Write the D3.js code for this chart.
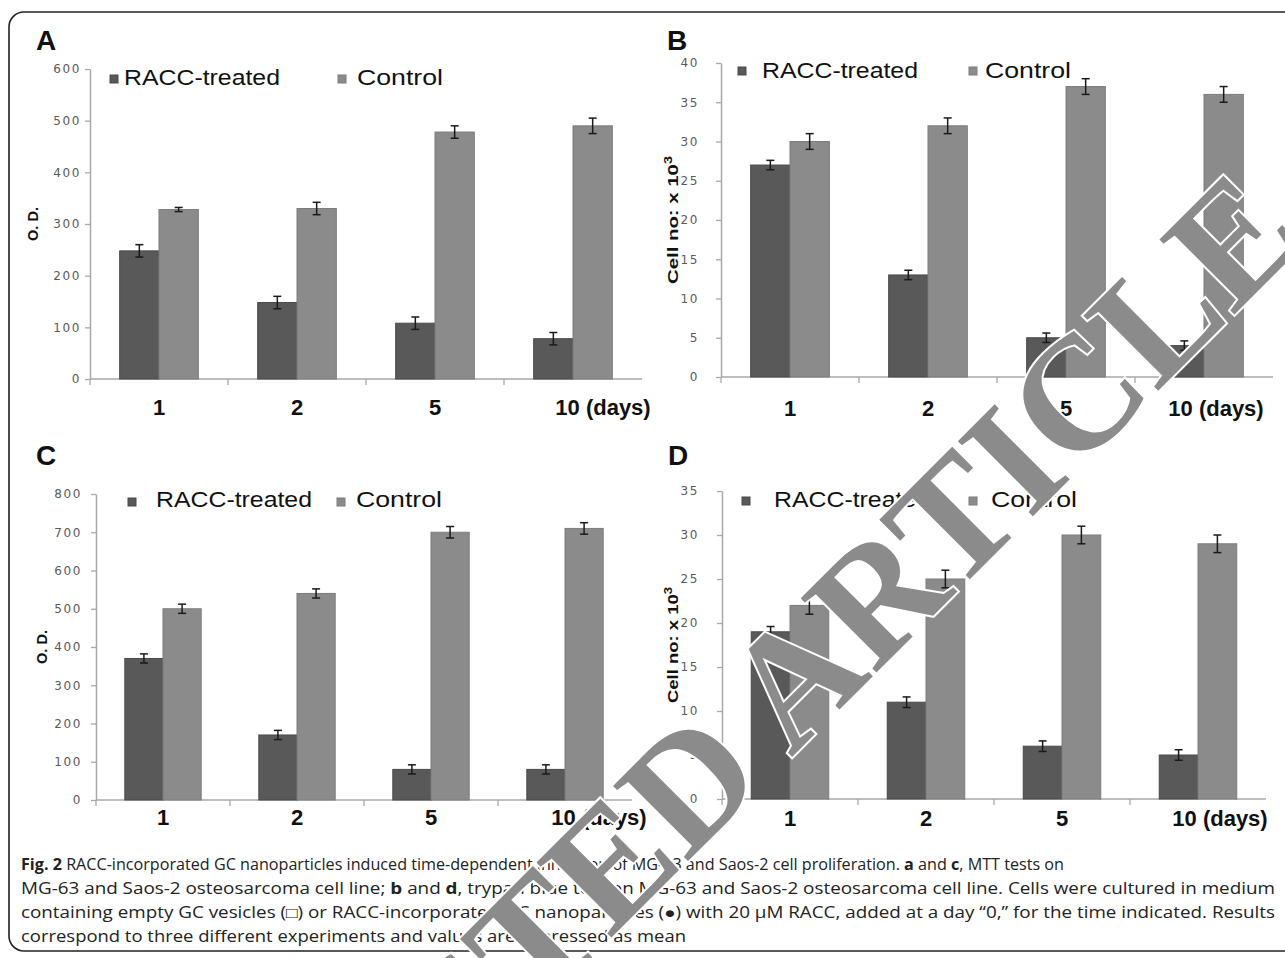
<!DOCTYPE html>
<html><head><meta charset="utf-8">
<script src="https://cdn.jsdelivr.net/npm/d3@7"></script>
<style>body{margin:0;background:#fff}</style>
</head><body>
<svg id="chart" width="1285" height="958"></svg>
<script>
// ---------- data ----------
const categories = ["1", "2", "5", "10 (days)"];
const seriesNames = ["RACC-treated", "Control"];

const aRacc = [248, 148, 108, 78];
const aRaccErr = [12, 12, 12, 12];
const aCtrl = [328, 330, 478, 490];
const aCtrlErr = [4, 12, 12, 15];

const bRacc = [27, 13, 5, 4];
const bRaccErr = [0.6, 0.6, 0.6, 0.6];
const bCtrl = [30, 32, 37, 36];
const bCtrlErr = [1, 1, 1, 1];

const cRacc = [370, 170, 80, 80];
const cRaccErr = [12, 12, 12, 12];
const cCtrl = [500, 540, 700, 710];
const cCtrlErr = [12, 12, 15, 15];

const dRacc = [19, 11, 6, 5];
const dRaccErr = [0.6, 0.6, 0.6, 0.6];
const dCtrl = [22, 25, 30, 29];
const dCtrlErr = [1, 1, 1, 1];

const aTicks = [0, 100, 200, 300, 400, 500, 600];
const bTicks = [0, 5, 10, 15, 20, 25, 30, 35, 40];
const cTicks = [0, 100, 200, 300, 400, 500, 600, 700, 800];
const dTicks = [0, 5, 10, 15, 20, 25, 30, 35];

const captionLines = [
  [["Fig. 2", true], [" RACC-incorporated GC nanoparticles induced time-dependent inhibition of MG-63 and Saos-2 cell proliferation. ", false], ["a", true], [" and ", false], ["c", true], [", MTT tests on", false]],
  [["MG-63 and Saos-2 osteosarcoma cell line; ", false], ["b", true], [" and ", false], ["d", true], [", trypan blue test on MG-63 and Saos-2 osteosarcoma cell line. Cells were cultured in medium", false]],
  [["containing empty GC vesicles (\u25A1) or RACC-incorporated GC nanoparticles (\u25CF) with 20 \u03BCM RACC, added at a day \u201C0,\u201D for the time indicated. Results", false]],
  [["correspond to three different experiments and values are expressed as mean", false]]
];
const watermarkText = "RETRACTED ARTICLE";

// ---------- layout ----------
const colors = ["#595959", "#8b8b8b"];
const strokes = ["#4a4a4a", "#7c7c7c"];

const panels = [
  {letter: "A", racc: aRacc, raccErr: aRaccErr, ctrl: aCtrl, ctrlErr: aCtrlErr, ticks: aTicks,
   ylabel: "O. D.", sup: false, lx: 36, ly: 50, x0: 90, x1: 642, yBase: 379, yTop: 69,
   tickDx: 9, ylx: 38, ylLen: 34, legY: 85, sq1: 110, tx1: 124, sq2: 338, tx2: 357, sqY: 75, catY: 415, lastDx: 30},
  {letter: "B", racc: bRacc, raccErr: bRaccErr, ctrl: bCtrl, ctrlErr: bCtrlErr, ticks: bTicks,
   ylabel: "Cell no: x 10", sup: true, lx: 667, ly: 50, x0: 721, x1: 1273, yBase: 377, yTop: 63,
   tickDx: 22, ylx: 678, ylLen: 128, legY: 78, sq1: 738, tx1: 762, sq2: 969, tx2: 985, sqY: 67, catY: 416, lastDx: 12},
  {letter: "C", racc: cRacc, raccErr: cRaccErr, ctrl: cCtrl, ctrlErr: cCtrlErr, ticks: cTicks,
   ylabel: "O. D.", sup: false, lx: 36, ly: 465, x0: 96, x1: 632, yBase: 800, yTop: 494,
   tickDx: 14, ylx: 47, ylLen: 34, legY: 507, sq1: 128, tx1: 156, sq2: 337, tx2: 356, sqY: 498, catY: 825, lastDx: 34},
  {letter: "D", racc: dRacc, raccErr: dRaccErr, ctrl: dCtrl, ctrlErr: dCtrlErr, ticks: dTicks,
   ylabel: "Cell no: x 10", sup: true, lx: 668, ly: 465, x0: 722, x1: 1266, yBase: 799, yTop: 491,
   tickDx: 23, ylx: 678, ylLen: 116, legY: 507, sq1: 742, tx1: 774, sq2: 969, tx2: 991, sqY: 497, catY: 826, lastDx: 22}
];

const svg = d3.select("#chart");

// outer frame
svg.append("rect").attr("x", 9).attr("y", 12).attr("width", 1330).attr("height", 939)
  .attr("rx", 15).attr("fill", "none").attr("stroke", "#222").attr("stroke-width", 1.6);

panels.forEach(p => {
  const g = svg.append("g");
  const x = d3.scaleBand().domain(categories).range([p.x0, p.x1]).paddingInner(0).paddingOuter(0);
  const xs = d3.scaleBand().domain(seriesNames).range([x.bandwidth() * 0.215, x.bandwidth() * 0.785]);
  const y = d3.scaleLinear().domain([0, d3.max(p.ticks)]).range([p.yBase, p.yTop]);

  g.append("text").attr("x", p.lx).attr("y", p.ly).text(p.letter)
    .attr("font-family", "Liberation Sans, Arial, sans-serif").attr("font-weight", "bold")
    .attr("font-size", 28).attr("fill", "#111");

  const ya = g.append("g").attr("transform", `translate(${p.x0},0)`)
    .call(d3.axisLeft(y).tickValues(p.ticks).tickSize(5).tickSizeOuter(0).tickPadding(p.tickDx - 5));
  ya.select(".domain").attr("stroke", "#a8a8a8").attr("stroke-width", 1.5);
  ya.selectAll(".tick line").attr("stroke", "#a8a8a8").attr("stroke-width", 1.3);
  ya.selectAll(".tick text").attr("font-family", "DejaVu Sans, Verdana, sans-serif")
    .attr("font-size", 12).attr("letter-spacing", 1.6).attr("fill", "#5a5a5a");

  g.append("line").attr("x1", p.x0).attr("x2", p.x1).attr("y1", p.yBase).attr("y2", p.yBase)
    .attr("stroke", "#a8a8a8").attr("stroke-width", 1.6);
  g.selectAll(".xt").data(categories).enter().append("line")
    .attr("x1", d => x(d)).attr("x2", d => x(d))
    .attr("y1", p.yBase).attr("y2", p.yBase + 6).attr("stroke", "#a8a8a8").attr("stroke-width", 1.3);

  g.selectAll(".cl").data(categories).enter().append("text")
    .attr("x", (d, i) => x(d) + x.bandwidth() / 2 + (i === categories.length - 1 ? p.lastDx : 0))
    .attr("y", p.catY).attr("text-anchor", "middle")
    .attr("font-family", "Liberation Sans, Arial, sans-serif").attr("font-weight", "bold")
    .attr("font-size", 22).attr("fill", "#111").text(d => d);

  const series = [
    {name: seriesNames[0], vals: p.racc, errs: p.raccErr, ci: 0},
    {name: seriesNames[1], vals: p.ctrl, errs: p.ctrlErr, ci: 1}
  ];
  series.forEach(s => {
    const data = categories.map((c, i) => ({c, v: s.vals[i], e: s.errs[i]}));
    g.selectAll(null).data(data).enter().append("rect")
      .attr("x", d => x(d.c) + xs(s.name)).attr("width", xs.bandwidth())
      .attr("y", d => y(d.v)).attr("height", d => y(0) - y(d.v))
      .attr("fill", colors[s.ci]).attr("stroke", strokes[s.ci]).attr("stroke-width", 1);
    const eg = g.selectAll(null).data(data).enter().append("g")
      .attr("stroke", "#1a1a1a").attr("stroke-width", 1.5);
    const cx = d => x(d.c) + xs(s.name) + xs.bandwidth() / 2;
    eg.append("line").attr("x1", cx).attr("x2", cx).attr("y1", d => y(d.v + d.e)).attr("y2", d => y(d.v - d.e));
    eg.append("line").attr("x1", d => cx(d) - 4).attr("x2", d => cx(d) + 4).attr("y1", d => y(d.v + d.e)).attr("y2", d => y(d.v + d.e));
    eg.append("line").attr("x1", d => cx(d) - 4).attr("x2", d => cx(d) + 4).attr("y1", d => y(d.v - d.e)).attr("y2", d => y(d.v - d.e));
  });

  const cy = (p.yBase + p.yTop) / 2;
  const yl = g.append("text").attr("transform", `translate(${p.ylx},${cy}) rotate(-90)`)
    .attr("text-anchor", "middle").attr("font-family", "Liberation Sans, Arial, sans-serif")
    .attr("font-weight", "bold").attr("font-size", 14).attr("fill", "#111")
    .attr("textLength", p.ylLen).attr("lengthAdjust", "spacingAndGlyphs");
  yl.append("tspan").text(p.ylabel);
  if (p.sup) yl.append("tspan").attr("dy", -6).attr("font-size", 10).text("3");

  [[p.sq1, p.tx1, 156], [p.sq2, p.tx2, 86]].forEach((L, i) => {
    g.append("rect").attr("x", L[0]).attr("y", p.sqY).attr("width", 8).attr("height", 8)
      .attr("fill", colors[i]).attr("stroke", strokes[i]);
    g.append("text").attr("x", L[1]).attr("y", p.legY).text(seriesNames[i])
      .attr("font-family", "Liberation Sans, Arial, sans-serif").attr("font-size", 22)
      .attr("fill", "#111").attr("textLength", L[2]).attr("lengthAdjust", "spacingAndGlyphs");
  });
});

// caption
const capW = [1043, 1254, 1254, 665];
captionLines.forEach((line, i) => {
  const t = svg.append("text").attr("x", 21).attr("y", 870 + i * 24)
    .attr("font-family", "Open Sans, Noto Sans, sans-serif").attr("font-size", 15.5).attr("fill", "#222")
    .attr("textLength", capW[i]).attr("lengthAdjust", "spacingAndGlyphs");
  line.forEach(seg => t.append("tspan").attr("font-weight", seg[1] ? "bold" : "normal").text(seg[0]));
});

// watermark
svg.append("text").attr("transform", "translate(1309,240) rotate(-45)")
  .attr("text-anchor", "end").attr("font-family", "Liberation Serif, Times New Roman, serif")
  .attr("font-weight", "bold").attr("font-size", 162).attr("fill", "#8b8b8b")
  .attr("stroke", "#fff").attr("stroke-width", 4).attr("paint-order", "stroke").text(watermarkText);
</script>
</body></html>
